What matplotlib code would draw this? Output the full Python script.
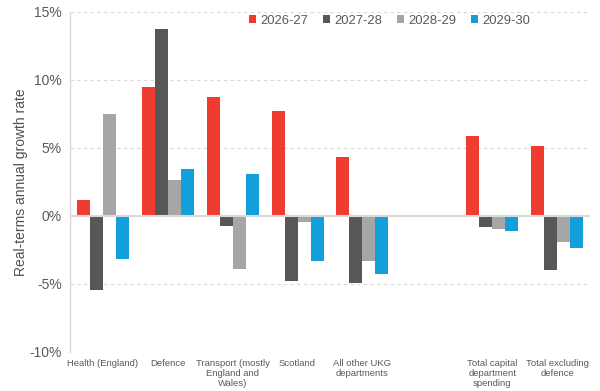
import numpy as np
import matplotlib.pyplot as plt

plt.rcParams['font.family'] = ['Liberation Sans', 'DejaVu Sans']

categories = ['Health (England)', 'Defence', 'Transport (mostly\nEngland and\nWales)',
              'Scotland', 'All other UKG\ndepartments', '',
              'Total capital\ndepartment\nspending', 'Total excluding\ndefence']
years = ['2026-27', '2027-28', '2028-29', '2029-30']
g2026 = [1.2, 9.5, 8.7, 7.7, 4.35, np.nan, 5.9, 5.1]
g2027 = [-5.45, 13.7, -0.75, -4.8, -4.95, np.nan, -0.8, -4.0]
g2028 = [7.5, 2.65, -3.9, -0.45, -3.35, np.nan, -1.0, -1.95]
g2029 = [-3.15, 3.45, 3.05, -3.3, -4.3, np.nan, -1.1, -2.4]
colors = ['#F03C2E', '#575757', '#A6A6A6', '#139FD9']

series = [g2026, g2027, g2028, g2029]
txt = '#595959'

fig = plt.figure(figsize=(6, 3.91), dpi=100)
ax = fig.add_axes([0.117, 0.1, 0.866, 0.87])

x = np.arange(len(categories))
w = 0.2
for i, vals in enumerate(series):
    ax.bar(x + (i - 1.5) * w, vals, width=w, color=colors[i], label=years[i], zorder=3)

ax.set_xlim(-0.5, len(categories) - 0.5)
ax.set_ylim(-10, 15)
ax.set_yticks([-10, -5, 0, 5, 10, 15])
ax.set_yticklabels(['-10%', '-5%', '0%', '5%', '10%', '15%'], fontsize=10, color=txt)
ax.set_xticks(x)
ax.set_xticklabels(categories, fontsize=6.8, color=txt, linespacing=1.15)
ax.tick_params(axis='both', length=0)
ax.tick_params(axis='y', pad=6)
ax.tick_params(axis='x', pad=5)
ax.set_ylabel('Real-terms annual growth rate', fontsize=10, color='#505050', labelpad=1)

for gy in [-10, -5, 5, 10, 15]:
    ax.axhline(gy, color='#D9D9D9', lw=0.8, ls=(0, (3, 3)), zorder=1)
ax.axhline(0, color='#D9D9D9', lw=1.5, zorder=4)

for s in ['top', 'right', 'bottom']:
    ax.spines[s].set_visible(False)
ax.spines['left'].set_color('#D9D9D9')
ax.spines['left'].set_linewidth(1.0)

leg = ax.legend(loc='center', bbox_to_anchor=(0.615, 0.973), ncol=4, frameon=False,
                fontsize=9.4, handlelength=0.55, handleheight=0.55, handletextpad=0.35,
                columnspacing=1.1, borderaxespad=0, borderpad=0)
for t in leg.get_texts():
    t.set_color(txt)

fig.savefig('out.png', dpi=100)
